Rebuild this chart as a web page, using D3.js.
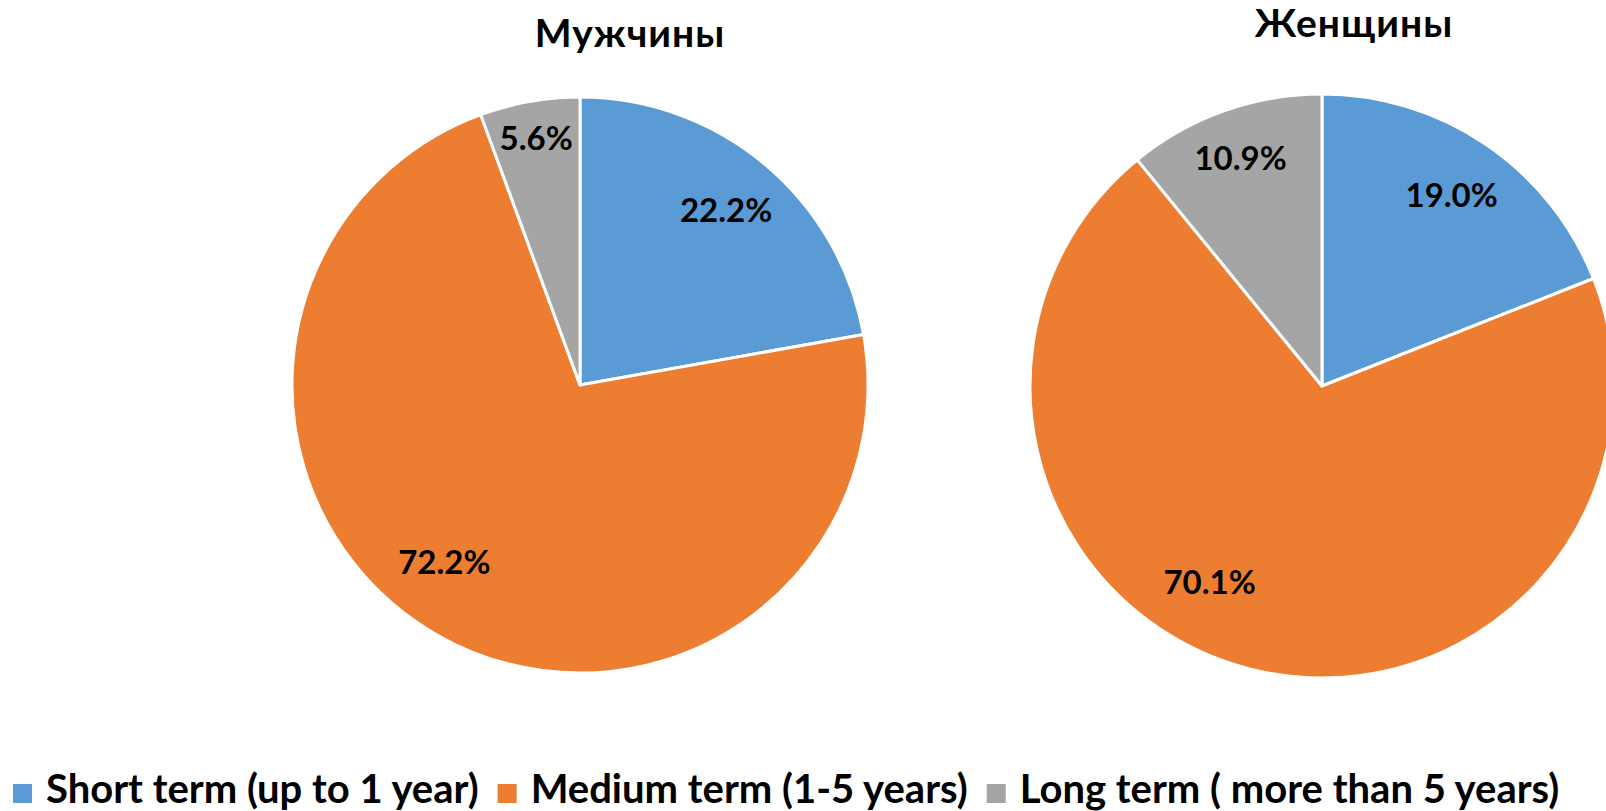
<!DOCTYPE html>
<html><head><meta charset="utf-8">
<script src="https://cdn.jsdelivr.net/npm/d3@7"></script>
<style>
html,body{margin:0;padding:0;background:#fff;overflow:hidden;}
text{font-family:"Lato","Noto Sans",sans-serif;font-weight:700;fill:#000;}
</style></head>
<body>
<svg id="c" width="1606" height="811"></svg>
<script>
const categories = ["Short term (up to 1 year)", "Medium term (1-5 years)", "Long term ( more than 5 years)"];
const groups = ["Мужчины", "Женщины"];
const menValues = [22.2, 72.2, 5.6];
const womenValues = [19.0, 70.1, 10.9];
const colors = ["#5B9BD5", "#ED7D31", "#A5A5A5"];

const svg = d3.select("#c");
const color = d3.scaleOrdinal().domain(categories).range(colors);

const pies = [
  {title: groups[0], values: menValues, cx: 580, cy: 385, r: 288, tx: 630, ty: 47},
  {title: groups[1], values: womenValues, cx: 1322, cy: 386, r: 292, tx: 1354, ty: 37}
];

const pie = d3.pie().sort(null).value(d => d.v);

pies.forEach(p => {
  const data = categories.map((c, i) => ({c, v: p.values[i]}));
  const arcs = pie(data);
  const g = svg.append("g").attr("transform", `translate(${p.cx},${p.cy})`);
  const arc = d3.arc().innerRadius(0).outerRadius(p.r);
  g.selectAll("path").data(arcs).enter().append("path")
    .attr("d", arc)
    .attr("fill", d => color(d.data.c))
    .attr("stroke", "#fff").attr("stroke-width", 3).attr("stroke-linejoin", "round");
  g.selectAll("text.lbl").data(arcs).enter().append("text")
    .attr("class", "lbl")
    .attr("text-anchor", "middle")
    .attr("dy", "0.36em")
    .attr("font-size", 33)
    .attr("transform", d => {
      let a = (d.startAngle + d.endAngle) / 2;
      let f = 0.79;
      if (d.data.v > 50) { a = (a + 1.25 * Math.PI) / 2; f = 0.775; }
      else if (d.data.v < 8) f = 0.87;
      else if (d.data.v < 15) f = 0.83;
      const rr = p.r * f;
      return `translate(${rr * Math.sin(a)},${-rr * Math.cos(a)})`;
    })
    .text(d => d.data.v.toFixed(1) + "%");
  svg.append("text").attr("x", p.tx).attr("y", p.ty)
    .attr("text-anchor", "middle").attr("font-size", 39).attr("letter-spacing", 1).text(p.title);
});

// legend
const legendG = svg.append("g");
let x = 13;
categories.forEach((c, i) => {
  const it = legendG.append("g");
  it.append("rect").attr("x", x).attr("y", 784).attr("width", 19).attr("height", 19).attr("fill", colors[i]);
  const t = it.append("text").attr("x", x + 33).attr("y", 803).attr("font-size", 40).text(c);
  const w = t.node().getComputedTextLength();
  x = x + 33 + w + 19;
});
</script>
</body></html>
